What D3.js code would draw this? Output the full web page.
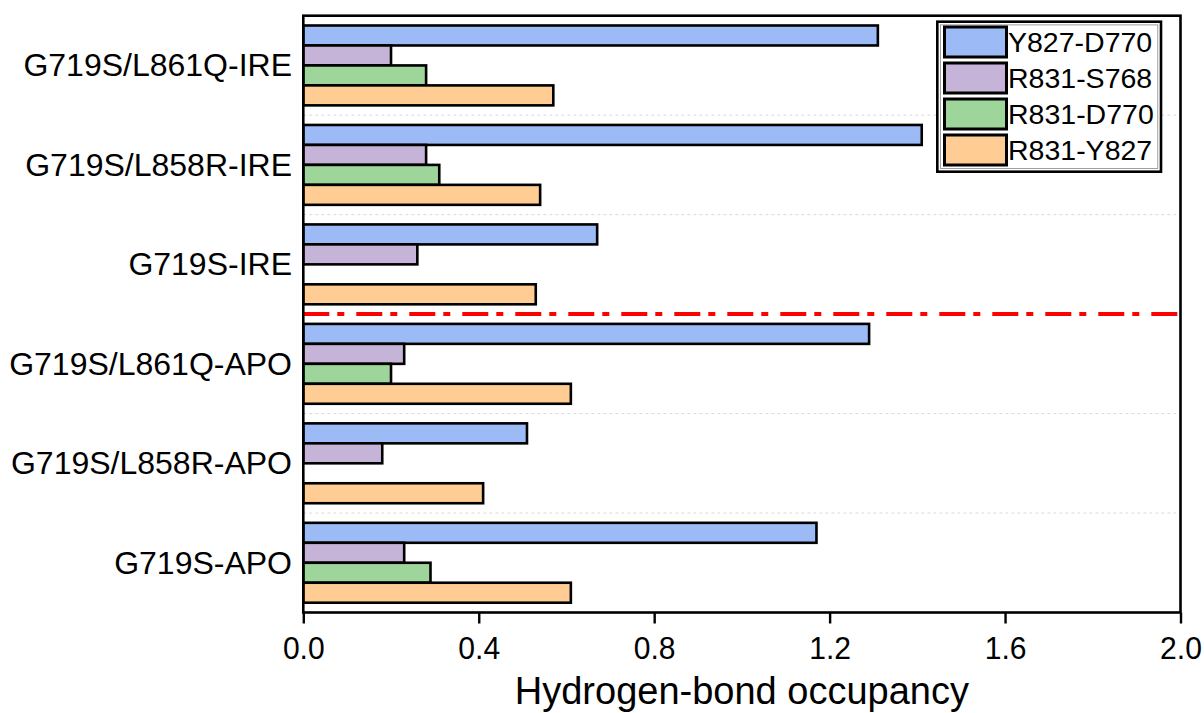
<!DOCTYPE html>
<html>
<head>
<meta charset="utf-8">
<script src="https://cdn.jsdelivr.net/npm/d3@7"></script>
<style>
  body { margin: 0; background: #fff; }
  svg text { font-family: Arial, "Liberation Sans", sans-serif; fill: #000; }
</style>
</head>
<body>
<svg id="chart"></svg>
<script>
const width = 1204;
const height = 713;

// data
const systems = ["G719S/L861Q-IRE", "G719S/L858R-IRE", "G719S-IRE",
                 "G719S/L861Q-APO", "G719S/L858R-APO", "G719S-APO"];
const bonds = ["Y827-D770", "R831-S768", "R831-D770", "R831-Y827"];
const y827_d770 = [1.31, 1.41, 0.67, 1.29, 0.51, 1.17];
const r831_s768 = [0.20, 0.28, 0.26, 0.23, 0.18, 0.23];
const r831_d770 = [0.28, 0.31, 0, 0.20, 0, 0.29];
const r831_y827 = [0.57, 0.54, 0.53, 0.61, 0.41, 0.61];
const xTicks = [0, 0.4, 0.8, 1.2, 1.6, 2.0];

const seriesValues = [y827_d770, r831_s768, r831_d770, r831_y827];
const colors = ["#9cbbf6", "#c5b4d8", "#9dd59b", "#ffcd93"];

const svg = d3.select("#chart")
    .attr("width", width)
    .attr("height", height);

const margin = {left: 303.3, right: 1180.5, top: 15.7, bottom: 612.5};

const x = d3.scaleLinear()
    .domain([0, 2])
    .range([margin.left, margin.right]);

const y = d3.scaleBand()
    .domain(systems)
    .range([margin.top, margin.bottom]);

const sub = d3.scaleBand()
    .domain(bonds)
    .range([9.8, y.bandwidth() - 9.8]);

const color = d3.scaleOrdinal().domain(bonds).range(colors);

// separators between the groups, the red one splits IRE from APO
const bounds = systems.slice(1).map(s => y(s));
svg.append("g")
  .selectAll("line")
  .data(bounds)
  .join("line")
    .attr("x1", margin.left)
    .attr("x2", (d, i) => i === 2 ? margin.right + 3 : margin.right)
    .attr("y1", d => d)
    .attr("y2", d => d)
    .attr("stroke", (d, i) => i === 2 ? "#ff0000" : "#d8d8d8")
    .attr("stroke-width", (d, i) => i === 2 ? 4 : 1)
    .attr("stroke-dasharray", (d, i) => i === 2 ? "26,8,7,12" : "3,3");

// bars
const rows = [];
systems.forEach((s, i) => {
  bonds.forEach((b, j) => {
    rows.push({system: s, bond: b, value: seriesValues[j][i]});
  });
});

svg.append("g")
  .selectAll("rect")
  .data(rows.filter(d => d.value > 0))
  .join("rect")
    .attr("x", x(0))
    .attr("y", d => y(d.system) + sub(d.bond))
    .attr("width", d => x(d.value) - x(0))
    .attr("height", sub.bandwidth())
    .attr("fill", d => color(d.bond))
    .attr("stroke", "#000")
    .attr("stroke-width", 2.6);

// x axis
const xAxis = svg.append("g")
    .attr("transform", `translate(0,${margin.bottom})`)
    .call(d3.axisBottom(x).tickValues(xTicks).tickFormat(d3.format(".1f")).tickSize(11));
xAxis.select(".domain").remove();
xAxis.selectAll(".tick line").attr("stroke", "#000").attr("stroke-width", 2.4);
xAxis.selectAll(".tick text")
    .attr("y", null)
    .attr("dy", null)
    .attr("transform", "translate(0,46.5) scale(0.94,1)")
    .style("font-size", "32px")
    .style("font-family", "Arial, 'Liberation Sans', sans-serif");

// frame
svg.append("rect")
    .attr("x", margin.left)
    .attr("y", margin.top)
    .attr("width", margin.right - margin.left)
    .attr("height", margin.bottom - margin.top)
    .attr("fill", "none")
    .attr("stroke", "#000")
    .attr("stroke-width", 2.6);

// category labels
svg.append("g")
  .selectAll("text")
  .data(systems)
  .join("text")
    .attr("x", 292)
    .attr("y", d => y(d) + y.bandwidth() / 2 + 11)
    .attr("text-anchor", "end")
    .style("font-size", "32px")
    .text(d => d);

// axis title
svg.append("text")
    .attr("x", (margin.left + margin.right) / 2)
    .attr("y", 704)
    .attr("text-anchor", "middle")
    .style("font-size", "38px")
    .text("Hydrogen-bond occupancy");

// legend
const legend = svg.append("g");
legend.append("rect")
    .attr("x", 937.3).attr("y", 21.7)
    .attr("width", 223.7).attr("height", 150)
    .attr("fill", "#fff")
    .attr("stroke", "#000")
    .attr("stroke-width", 2.6);
legend.append("rect")
    .attr("x", 940.5).attr("y", 24.9)
    .attr("width", 217.3).attr("height", 143.6)
    .attr("fill", "none")
    .attr("stroke", "#888")
    .attr("stroke-width", 0.8);

const item = legend.selectAll("g.item")
  .data(bonds)
  .join("g")
    .attr("class", "item")
    .attr("transform", (d, i) => `translate(944.5,${27 + i * 36})`);
item.append("rect")
    .attr("width", 62)
    .attr("height", 30)
    .attr("fill", d => color(d))
    .attr("stroke", "#000")
    .attr("stroke-width", 3);
item.append("text")
    .attr("x", 63.5)
    .attr("y", 25)
    .style("font-size", "28.5px")
    .text(d => d);
</script>
</body>
</html>
